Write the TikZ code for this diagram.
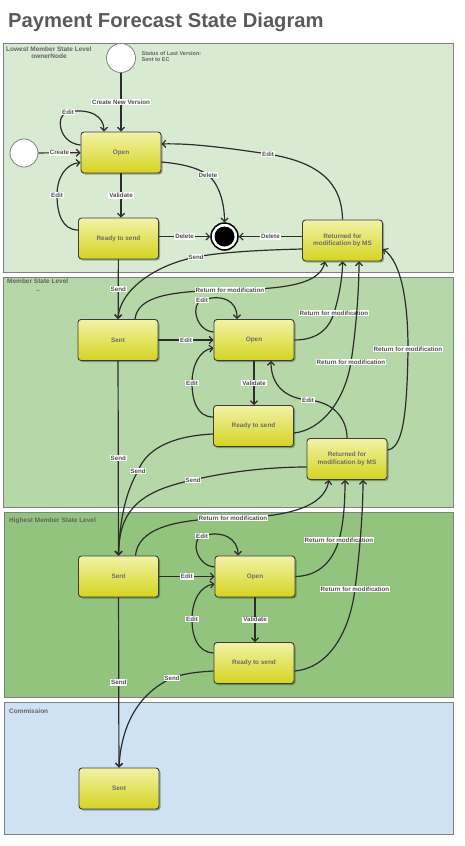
\documentclass[tikz,border=0pt]{standalone}
\usepackage{fontspec}
\setmainfont{Liberation Sans}
\usetikzlibrary{arrows.meta,shadows,calc}
\definecolor{laneA}{RGB}{217,234,211}
\definecolor{laneB}{RGB}{182,215,168}
\definecolor{laneC}{RGB}{147,196,125}
\definecolor{laneD}{RGB}{207,226,243}
\definecolor{laneb}{RGB}{128,128,128}
\definecolor{lanec}{RGB}{100,100,100}
\definecolor{linec}{RGB}{45,45,45}
\definecolor{lblc}{RGB}{80,80,80}
\definecolor{ntop}{RGB}{242,242,168}
\definecolor{nbot}{RGB}{212,212,32}
\definecolor{nodeb}{RGB}{60,60,60}
\definecolor{ntext}{RGB}{110,110,100}
\definecolor{titlec}{RGB}{90,90,90}
\begin{document}
\begin{tikzpicture}[x=1pt,y=-1pt,
  conn/.style={draw=linec, line width=1.2pt, -{Straight Barb[length=3.5pt,width=7pt]}},
  lbl/.style={fill=white, inner sep=0.9pt, font=\fontsize{6.2}{7}\selectfont\bfseries, text=lblc},
  state/.style={rectangle, rounded corners=3pt, draw=nodeb, line width=0.9pt,
    minimum width=80pt, minimum height=41pt, inner sep=1pt, top color=ntop, bottom color=nbot,
    align=center, font=\fontsize{6.4}{7.6}\selectfont\bfseries, text=ntext,
    drop shadow={shadow xshift=1.5pt, shadow yshift=-1.5pt, fill=black, opacity=0.3}},
  lane/.style={draw=laneb, line width=0.8pt},
  lanelbl/.style={font=\fontsize{6.5}{7.5}\selectfont\bfseries, text=lanec, inner sep=0},
  init/.style={circle, draw=laneb, fill=white, line width=0.8pt, minimum size=29pt, inner sep=0},
  finalst/.style={circle, draw=black, fill=white, line width=1.5pt, minimum size=27pt, inner sep=0,
    path picture={\fill[black] (path picture bounding box.center) circle (10pt);}}]
\useasboundingbox (0,0) rectangle (464,846);
% title
\node[anchor=base west, inner sep=0, font=\fontsize{20.2}{24}\selectfont\bfseries, text=titlec] (title) at (8,27) {Payment Forecast State Diagram};
% lanes
\draw[lane, fill=laneA] (3,43) rectangle (453,272);
\draw[lane, fill=laneB] (3,277) rectangle (453,507);
\draw[lane, fill=laneC] (4,512) rectangle (453,697);
\draw[lane, fill=laneD] (4,702) rectangle (453,834);
\node[lanelbl, anchor=base west] (ln1) at (6,51) {Lowest Member State Level};
\node[lanelbl, anchor=base] (ln1b) at (49,58.5) {ownerNode};
\node[lanelbl, anchor=base west] (ln2) at (7,283.5) {Member State Level};
\node[lanelbl, anchor=base] (ln2b) at (38,292) {–};
\node[lanelbl, anchor=base west] (ln3) at (9,522) {Highest Member State Level};
\node[lanelbl, anchor=base west] (ln4) at (9,713) {Commission};
\node[anchor=north west, inner sep=0, align=left, font=\fontsize{5.5}{6}\selectfont\bfseries, text=lanec] (status) at (141.5,51.5) {Status of Last Version:\\Sent to EC};
% states
\node[init] (init1) at (121,58) {};
\node[init, minimum size=28pt] (init2) at (24,153) {};
\node[state] (open1) at (121,152.5) {Open};
\node[state] (ready1) at (118.5,238.5) {Ready to send};
\node[finalst] (final) at (224.5,236.5) {};
\node[state] (ret1) at (342.5,240.5) {Returned for\\modification by MS};
\node[state] (sent2) at (118,340) {Sent};
\node[state] (open2) at (254,340) {Open};
\node[state] (ready2) at (253.5,426) {Ready to send};
\node[state] (ret2) at (347,459) {Returned for\\modification by MS};
\node[state] (sent3) at (118.5,576.5) {Sent};
\node[state] (open3) at (255,576.5) {Open};
\node[state] (ready3) at (254,663) {Ready to send};
\node[state] (sent4) at (119,788.5) {Sent};
% lane 1 connectors
\draw[conn] (init1) -- node[lbl,midway] (e1) {Create New Version} (open1);
\draw[conn] ($(open1.west)+(0,-7.5)$) .. controls (58,143) and (55,114) .. (68,112) node[lbl] (e2) {Edit} .. controls (90,108) and (104,116) .. ($(open1.north)+(-17,0)$);
\draw[conn] (init2) -- node[lbl,midway] (e3) {Create} (open1);
\draw[conn] (open1) -- node[lbl,midway] (e4) {Validate} (open1 |- ready1.north);
\draw[conn] ($(ready1.west)+(0,-8.5)$) .. controls (62,230) and (57,213) .. (57,195) node[lbl] (e5) {Edit} .. controls (57,177) and (66,164) .. ($(open1.west)+(0,10)$);
\draw[conn] ($(open1.east)+(0,9.5)$) .. controls (185,164) and (200,169) .. (208,175) node[lbl] (e6) {Delete} .. controls (220,185) and (224.5,205) .. (final.north);
\draw[conn] (ready1.east |- final) -- node[lbl,midway] (e7) {Delete} (final.west);
\draw[conn] (ret1.west |- final) -- node[lbl,midway] (e8) {Delete} (final.east);
\draw[conn] (ret1.north) .. controls (342,182) and (318,162) .. (268,154) node[lbl] (e9) {Edit} .. controls (228,148) and (190,143) .. ($(open1.east)+(0,-8.5)$);
\draw[conn] ($(ret1.west)+(0,8.5)$) .. controls (262,250) and (222,252) .. (196,257) node[lbl] (e10) {Send} .. controls (155,265) and (120,290) .. (sent2.north);
\draw[conn] (ready1) -- node[lbl,midway] (e11) {Send} (sent2);
% lane 2 connectors
\draw[conn] (sent2) -- node[lbl,midway] (e12) {Edit} (open2);
\draw[conn] ($(open2.west)+(0,-8)$) .. controls (196,331) and (190,304) .. (202,300) node[lbl] (e13) {Edit} .. controls (222,294) and (237,300) .. ($(open2.north)+(-17,0)$);
\draw[conn] (open2) -- node[lbl,midway] (e14) {Validate} (open2 |- ready2.north);
\draw[conn] ($(ready2.west)+(0,-9)$) .. controls (197,417) and (192,400) .. (192,383) node[lbl] (e15) {Edit} .. controls (192,365) and (200,350) .. ($(open2.west)+(0,8)$);
\draw[conn] ($(sent2.north)+(17,0)$) .. controls (138,296) and (170,291) .. (230,290) node[lbl] (e16) {Return for modification} .. controls (290,289) and (320,283) .. ($(ret1.south)+(-17.5,0)$);
\draw[conn] (open2.east) .. controls (320,340) and (330,326) .. (334,313) node[lbl] (e17) {Return for modification} .. controls (338,300) and (342.5,280) .. (ret1.south);
\draw[conn] ($(ready2.east)+(0,7)$) .. controls (322,430) and (345,400) .. (351,362) node[lbl] (e18) {Return for modification} .. controls (356,330) and (359,290) .. ($(ret1.south)+(16.5,0)$);
\draw[conn] ($(ret2.east)+(0,-9)$) .. controls (402,448) and (407,420) .. (408,349) node[lbl] (e19) {Return for modification} .. controls (408,300) and (401,262) .. ($(ret1.east)+(0,8.5)$);
\draw[conn] (ret2.north) .. controls (347,420) and (335,402) .. (308,400) node[lbl] (e20) {Edit} .. controls (285,398) and (271,385) .. ($(open2.south)+(17,0)$);
\draw[conn] (sent2) -- node[lbl,midway] (e21) {Send} (sent3);
\draw[conn] ($(ready2.west)+(0,8)$) .. controls (170,436) and (146,450) .. (138,471) node[lbl] (e22) {Send} .. controls (127,490) and (120,515) .. (sent3.north);
\draw[conn] ($(ret2.west)+(0,8)$) .. controls (260,467) and (218,474) .. (193,480) node[lbl] (e23) {Send} .. controls (140,491) and (119,510) .. (sent3.north);
% lane 3 connectors
\draw[conn] ($(sent3.north)+(17,0)$) .. controls (138,530) and (170,519) .. (233,518) node[lbl] (e24) {Return for modification} .. controls (285,517) and (324,508) .. ($(ret2.south)+(-18,0)$);
\draw[conn] (open3.east) .. controls (320,576) and (333,560) .. (339,540) node[lbl] (e25) {Return for modification} .. controls (344,522) and (345,500) .. ($(ret2.south)+(-2,0)$);
\draw[conn] ($(ready3.east)+(0,8)$) .. controls (330,668) and (350,630) .. (355,589) node[lbl] (e26) {Return for modification} .. controls (360,550) and (363,510) .. ($(ret2.south)+(16,0)$);
\draw[conn] (sent3) -- node[lbl,midway] (e27) {Edit} (open3);
\draw[conn] ($(open3.west)+(0,-9.5)$) .. controls (197,566) and (190,540) .. (202,536) node[lbl] (e28) {Edit} .. controls (222,530) and (238,538) .. ($(open3.north)+(-17,0)$);
\draw[conn] (open3) -- node[lbl,midway] (e29) {Validate} (open3 |- ready3.north);
\draw[conn] ($(ready3.west)+(0,-10)$) .. controls (197,652) and (192,636) .. (192,619) node[lbl] (e30) {Edit} .. controls (192,601) and (200,586) .. ($(open3.west)+(0,7.5)$);
\draw[conn] (sent3) -- node[lbl,midway] (e31) {Send} (sent4);
\draw[conn] ($(ready3.west)+(0,8)$) .. controls (195,672) and (182,674) .. (172,678) node[lbl] (e32) {Send} .. controls (135,695) and (121,730) .. (sent4.north);
\end{tikzpicture}
\end{document}
